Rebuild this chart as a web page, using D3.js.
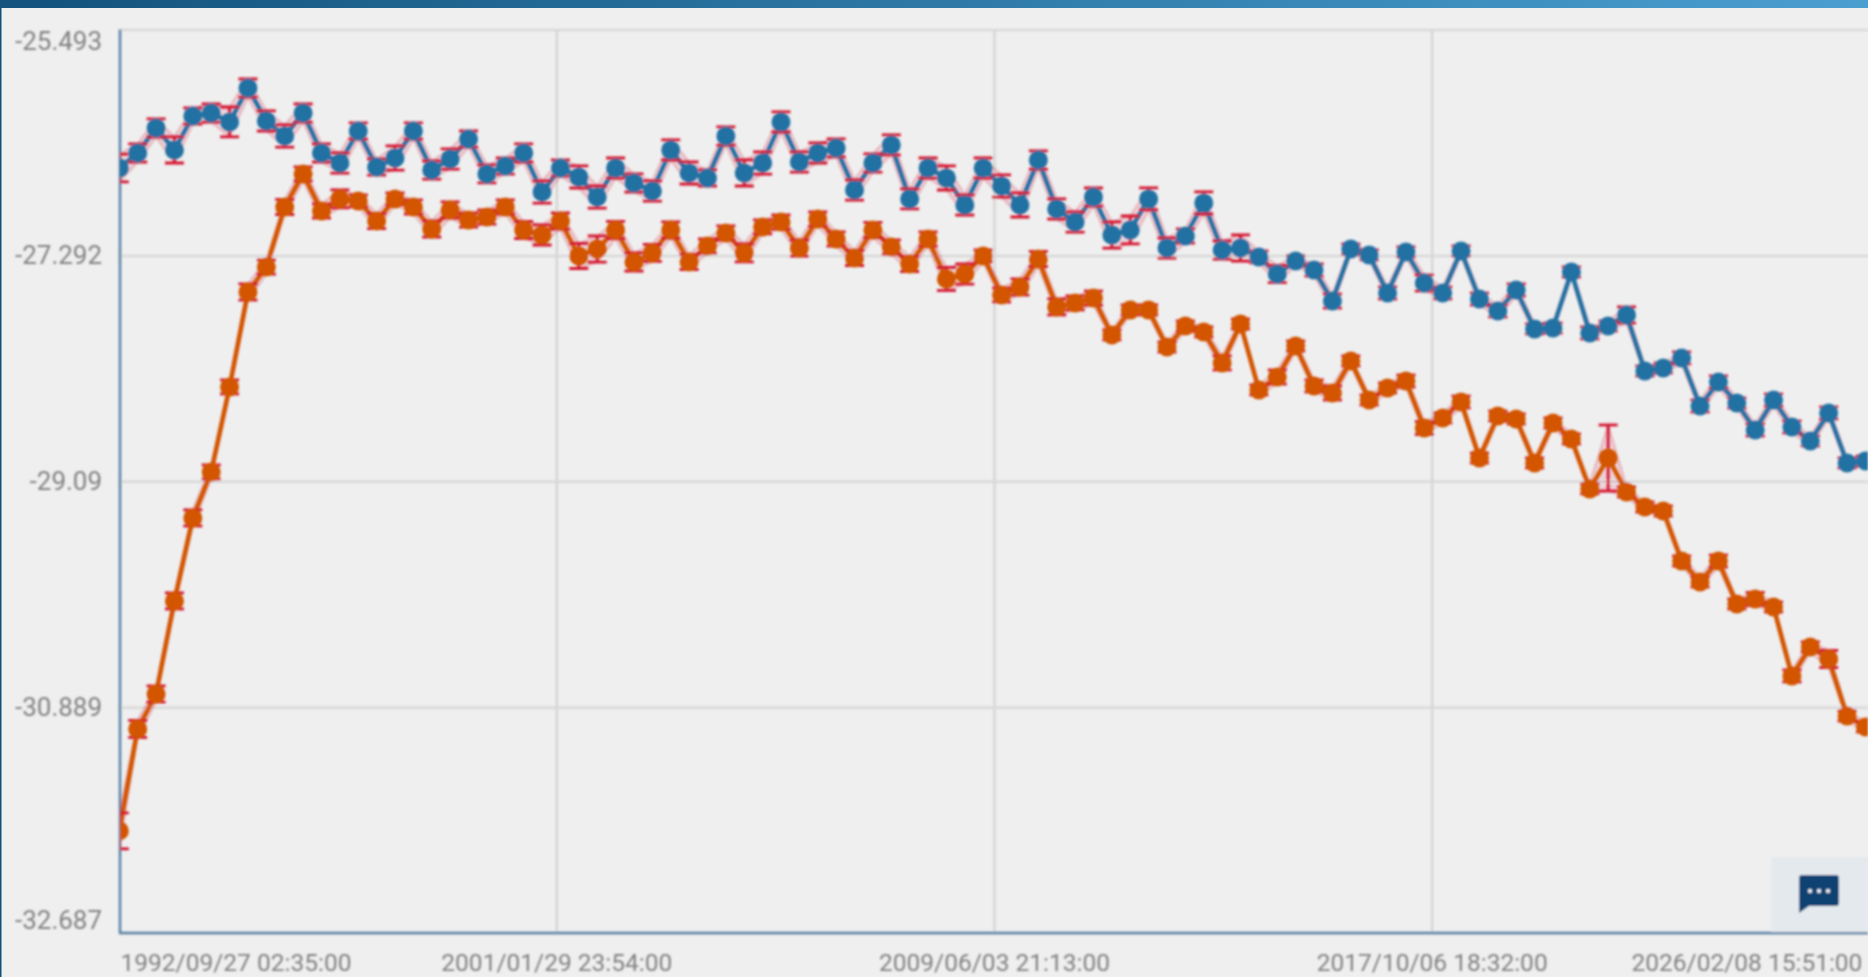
<!DOCTYPE html>
<html>
<head>
<meta charset="utf-8">
<script src="https://cdn.jsdelivr.net/npm/d3@7"></script>
<style>
    html, body { margin: 0; padding: 0; background: #efefef; overflow: hidden; }
    svg { display: block; }
    .tick text { font-family: Roboto, sans-serif; fill: #828282; }
    .x-axis .tick text { font-size: 24.5px; }
    .y-axis .tick text { font-size: 26px; }
</style>
</head>
<body>
<div id="chart"></div>
<script>
const yTicks = [-25.493, -27.292, -29.09, -30.889, -32.687];
const xTicks = ['1992/09/27 02:35:00', '2001/01/29 23:54:00', '2009/06/03 21:13:00', '2017/10/06 18:32:00', '2026/02/08 15:51:00'];

// days between two samples
const sampleStep = 127.95;

const blueValues = [
    -26.596, -26.476, -26.277, -26.452, -26.182, -26.158, -26.229, -25.959, -26.221, -26.341,
    -26.158, -26.476, -26.556, -26.301, -26.588, -26.516, -26.301, -26.612, -26.524, -26.365,
    -26.643, -26.580, -26.476, -26.787, -26.596, -26.667, -26.827, -26.596, -26.715, -26.779,
    -26.452, -26.635, -26.675, -26.341, -26.635, -26.556, -26.229, -26.548, -26.476, -26.436,
    -26.771, -26.556, -26.412, -26.842, -26.596, -26.675, -26.890, -26.596, -26.739, -26.890,
    -26.532, -26.922, -27.026, -26.827, -27.129, -27.089, -26.842, -27.233, -27.137, -26.874,
    -27.249, -27.233, -27.304, -27.440, -27.336, -27.408, -27.655, -27.241, -27.288, -27.591,
    -27.264, -27.511, -27.591, -27.256, -27.639, -27.734, -27.567, -27.877, -27.870, -27.424,
    -27.909, -27.854, -27.766, -28.212, -28.188, -28.108, -28.491, -28.299, -28.467, -28.682,
    -28.443, -28.658, -28.769, -28.546, -28.944, -28.928
];
const blueErrors = [
    .111, .072, .072, .104, .064, .072, .119, .072, .080, .088,
    .072, .072, .080, .064, .064, .096, .064, .072, .080, .064,
    .072, .064, .072, .088, .064, .088, .088, .080, .072, .080,
    .080, .088, .064, .072, .104, .088, .080, .080, .080, .072,
    .080, .072, .080, .080, .080, .096, .080, .080, .088, .096,
    .072, .080, .080, .072, .104, .111, .088, .080, .056, .088,
    .072, .104, .048, .068, .040, .048, .056, .040, .040, .048,
    .040, .064, .048, .040, .048, .048, .048, .040, .040, .040,
    .048, .040, .064, .040, .040, .048, .048, .048, .040, .048,
    .048, .048, .040, .048, .040, .040
];
const orangeValues = [
    -31.874, -31.062, -30.784, -30.043, -29.382, -29.016, -28.339, -27.583, -27.384, -26.906,
    -26.643, -26.938, -26.842, -26.858, -27.018, -26.842, -26.906, -27.081, -26.930, -27.010,
    -26.986, -26.906, -27.089, -27.129, -27.018, -27.296, -27.241, -27.089, -27.344, -27.272,
    -27.089, -27.344, -27.217, -27.113, -27.272, -27.065, -27.026, -27.233, -27.002, -27.161,
    -27.312, -27.089, -27.225, -27.360, -27.161, -27.479, -27.440, -27.296, -27.607, -27.543,
    -27.320, -27.702, -27.670, -27.631, -27.925, -27.726, -27.726, -28.021, -27.854, -27.901,
    -28.148, -27.838, -28.363, -28.260, -28.013, -28.331, -28.387, -28.132, -28.443, -28.347,
    -28.292, -28.666, -28.586, -28.459, -28.905, -28.570, -28.594, -28.944, -28.626, -28.753,
    -29.151, -28.905, -29.175, -29.295, -29.327, -29.725, -29.892, -29.725, -30.067, -30.027,
    -30.091, -30.640, -30.409, -30.505, -30.959, -31.046
];
const orangeErrors = [
    .143, .068, .064, .064, .064, .056, .056, .064, .056, .060,
    .056, .056, .072, .048, .060, .048, .056, .064, .064, .056,
    .056, .056, .068, .080, .064, .100, .104, .068, .072, .068,
    .064, .060, .056, .056, .072, .056, .056, .064, .056, .056,
    .060, .060, .056, .060, .056, .092, .080, .048, .056, .064,
    .060, .064, .056, .056, .040, .040, .040, .040, .040, .040,
    .056, .040, .040, .056, .040, .048, .056, .040, .040, .040,
    .048, .052, .040, .048, .040, .040, .040, .040, .040, .040,
    .040, .263, .040, .040, .040, .040, .040, .048, .040, .052,
    .040, .048, .040, .068, .040, .040
];

const width = 1868, height = 977;
const margin = {top: 29.5, left: 118.6, bottom: 44, right: -1.4};
const parseTime = d3.timeParse('%Y/%m/%d %H:%M:%S');
const formatTime = d3.timeFormat('%Y/%m/%d %H:%M:%S');
const tickDates = xTicks.map(parseTime);

const svg = d3.select('#chart').append('svg')
    .attr('width', width)
    .attr('height', height);

const defs = svg.append('defs');

// the reference is a soft, upscaled capture
defs.append('filter').attr('id', 'soft')
    .attr('x', 0).attr('y', 0).attr('width', 1).attr('height', 1)
    .append('feGaussianBlur').attr('stdDeviation', 0.8);

const topGradient = defs.append('linearGradient').attr('id', 'topbar');
topGradient.append('stop').attr('offset', '0%').attr('stop-color', '#12527c');
topGradient.append('stop').attr('offset', '100%').attr('stop-color', '#4a9fd0');

const xScale = d3.scaleTime()
    .domain([tickDates[0], tickDates[tickDates.length - 1]])
    .range([margin.left, width - margin.right]);

const yScale = d3.scaleLinear()
    .domain([yTicks[0], yTicks[yTicks.length - 1]])
    .range([margin.top, height - margin.bottom]);

defs.append('clipPath').attr('id', 'plot')
    .append('rect')
    .attr('x', 120)
    .attr('y', margin.top)
    .attr('width', width - 120)
    .attr('height', height - margin.bottom - margin.top);

// backdrop keeps the blur from fading at the window edges
svg.append('rect')
    .attr('width', width)
    .attr('height', 8)
    .attr('fill', 'url(#topbar)');
svg.append('rect')
    .attr('y', 8)
    .attr('width', 1.5)
    .attr('height', height)
    .attr('fill', '#14507c');

const page = svg.append('g').attr('filter', 'url(#soft)');

// Axes and grid
const xAxis = d3.axisBottom(xScale)
    .tickValues(tickDates)
    .tickSize(-(height - margin.bottom - margin.top))
    .tickPadding(21)
    .tickFormat(formatTime);

const yAxis = d3.axisLeft(yScale)
    .tickValues(yTicks)
    .tickSize(-(width - margin.left))
    .tickPadding(16.5)
    .tickFormat(d => String(d));

const xAxisGroup = page.append('g')
    .attr('class', 'x-axis')
    .attr('transform', `translate(0,${height - margin.bottom})`)
    .call(xAxis);

const yAxisGroup = page.append('g')
    .attr('class', 'y-axis')
    .attr('transform', `translate(${margin.left},0)`)
    .call(yAxis);

xAxisGroup.select('.domain').remove();
yAxisGroup.select('.domain').remove();
xAxisGroup.selectAll('.tick line').attr('stroke', '#d0d0d0').attr('stroke-width', 2);
yAxisGroup.selectAll('.tick line').attr('stroke', '#d8d8d8').attr('stroke-width', 2.5);

// first and last labels stay inside the plot extent
xAxisGroup.selectAll('.tick text')
    .attr('text-anchor', (d, i) => i === 0 ? 'start' : i === tickDates.length - 1 ? 'end' : 'middle')
    .attr('dx', (d, i) => i === 0 ? 1.4 : i === tickDates.length - 1 ? -7.5 : 0);
yAxisGroup.selectAll('.tick text')
    .attr('dy', (d, i) => i === 0 ? '0.77em' : i === yTicks.length - 1 ? '-0.17em' : '0.32em');
xAxisGroup.selectAll('.tick').filter((d, i) => i === 0 || i === tickDates.length - 1).select('line').remove();

page.append('line')
    .attr('x1', 120).attr('x2', 120)
    .attr('y1', margin.top).attr('y2', height - margin.bottom)
    .attr('stroke', '#5580a5').attr('stroke-width', 2.5);
page.append('line')
    .attr('x1', 119).attr('x2', width)
    .attr('y1', height - margin.bottom).attr('y2', height - margin.bottom)
    .attr('stroke', '#5580a5').attr('stroke-width', 2.5);

// Series
const plot = page.append('g').attr('clip-path', 'url(#plot)');

const lineGen = d3.line().x(d => d.x).y(d => yScale(d.value));
const bandGen = d3.area().x(d => d.x).y0(d => yScale(d.value - d.error)).y1(d => yScale(d.value + d.error));
const capHalf = 9.5;

function drawSeries(values, errors, color) {
    const points = values.map((v, i) => ({
        x: xScale(d3.timeHour.offset(tickDates[0], i * sampleStep * 24)) + 0.7,
        value: v,
        error: errors[i]
    }));

    plot.append('path')
        .datum(points)
        .attr('d', bandGen)
        .attr('fill', '#d81e3c')
        .attr('fill-opacity', 0.13)
        .attr('stroke', '#d81e3c')
        .attr('stroke-opacity', 0.25)
        .attr('stroke-width', 2);

    plot.append('path')
        .datum(points)
        .attr('d', lineGen)
        .attr('fill', 'none')
        .attr('stroke', color)
        .attr('stroke-width', 4.5);

    const bars = plot.append('g')
        .attr('stroke', '#d4142f')
        .attr('stroke-width', 2.8)
        .selectAll('g')
        .data(points)
        .join('g');

    bars.append('line')
        .attr('x1', d => d.x).attr('x2', d => d.x)
        .attr('y1', d => yScale(d.value + d.error))
        .attr('y2', d => yScale(d.value - d.error));
    bars.append('line')
        .attr('x1', d => d.x - capHalf).attr('x2', d => d.x + capHalf)
        .attr('y1', d => yScale(d.value + d.error))
        .attr('y2', d => yScale(d.value + d.error));
    bars.append('line')
        .attr('x1', d => d.x - capHalf).attr('x2', d => d.x + capHalf)
        .attr('y1', d => yScale(d.value - d.error))
        .attr('y2', d => yScale(d.value - d.error));

    plot.append('g')
        .selectAll('circle')
        .data(points)
        .join('circle')
        .attr('cx', d => d.x)
        .attr('cy', d => yScale(d.value))
        .attr('r', 9.5)
        .attr('fill', color);
}

drawSeries(orangeValues, orangeErrors, '#d35400');
drawSeries(blueValues, blueErrors, '#2471a3');

// Chat button in the corner
page.append('rect')
    .attr('x', 1771).attr('y', 857)
    .attr('width', 97).attr('height', 75)
    .attr('fill', '#e4e9ee');

const chat = page.append('g').attr('transform', 'translate(1799,875)');
chat.append('path')
    .attr('d', 'M3 0H37Q40 0 40 3V28Q40 31 37 31H10L0 38V3Q0 0 3 0Z')
    .attr('fill', '#0b4273');
chat.selectAll('circle')
    .data([11, 20, 29])
    .join('circle')
    .attr('cx', d => d)
    .attr('cy', 16)
    .attr('r', 2)
    .attr('fill', '#ffffff');
</script>
</body>
</html>
